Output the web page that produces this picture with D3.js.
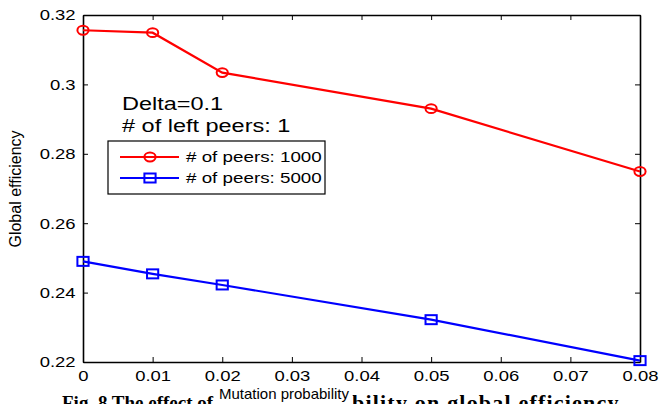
<!DOCTYPE html>
<html><head><meta charset="utf-8">
<script src="https://cdn.jsdelivr.net/npm/d3@7"></script>
<style>body{margin:0;background:#fff}svg{display:block}</style>
</head><body>
<svg id="c" width="660" height="404"></svg>
<script>
const xValues = [0, 0.01, 0.02, 0.05, 0.08];
const peers1000 = [0.3156, 0.3149, 0.3034, 0.2930, 0.2749];
const peers5000 = [0.2490, 0.2454, 0.2422, 0.2322, 0.2204];
const xTicks = [0, 0.01, 0.02, 0.03, 0.04, 0.05, 0.06, 0.07, 0.08];
const yTicks = [0.22, 0.24, 0.26, 0.28, 0.30, 0.32];
const seriesNames = ["# of peers: 1000", "# of peers: 5000"];
const annotations = ["Delta=0.1", "# of left peers: 1"];
const captionParts = ["Fig. 8 The effect of mutation proba", "bility on global efficiency"];

const svg = d3.select("#c");
const L = 83, R = 640, T = 15, B = 362;
const SX = 1.27; // horizontal stretch of the original figure
const x = d3.scaleLinear().domain([0, 0.08]).range([L, R]);
const y = d3.scaleLinear().domain([0.22, 0.32]).range([B, T]);
const font = "Liberation Sans, Arial, sans-serif";

function stretchedText(parent, tx, ty, size, str, sx) {
  return parent.append("text").attr("transform", `translate(${tx},${ty}) scale(${sx},1)`)
    .attr("font-family", font).attr("font-size", size).attr("fill", "#000").text(str);
}

// caption (mostly cut off at the bottom edge, partly hidden by the x label)
const cap = svg.append("text").attr("y", 409)
  .attr("font-family", "Liberation Serif, Times New Roman, serif")
  .attr("font-weight", "bold").attr("font-size", 19);
cap.append("tspan").attr("x", 62).text(captionParts[0]);
cap.append("tspan").attr("x", 352).attr("y", 410).attr("font-size", 22).attr("letter-spacing", 1.2).text(captionParts[1]);

// axes box
const fmt = d => d === 0 ? "0" : String(+d.toFixed(2));
const gx = svg.append("g").attr("transform", `translate(0,${B})`)
  .call(d3.axisBottom(x).tickValues(xTicks).tickSizeInner(-5).tickSizeOuter(0).tickPadding(8).tickFormat(fmt));
const gxt = svg.append("g").attr("transform", `translate(0,${T})`)
  .call(d3.axisTop(x).tickValues(xTicks).tickSizeInner(-5).tickSizeOuter(0).tickFormat(""));
const gy = svg.append("g").attr("transform", `translate(${L},0)`)
  .call(d3.axisLeft(y).tickValues(yTicks).tickSizeInner(-5).tickSizeOuter(0).tickPadding(6).tickFormat(d => String(+d.toFixed(2))));
const gyr = svg.append("g").attr("transform", `translate(${R},0)`)
  .call(d3.axisRight(y).tickValues(yTicks).tickSizeInner(-5).tickSizeOuter(0).tickFormat(""));
[gx, gxt, gy, gyr].forEach(g => {
  g.select(".domain").attr("stroke", "#000").attr("stroke-width", 1.6);
  g.selectAll(".tick line").attr("stroke", "#000").attr("stroke-width", 1);
  g.selectAll("text").attr("font-family", font).attr("font-size", 15).attr("fill", "#000")
    .attr("transform", `scale(${SX - 0.04},1)`);
});

// axis labels
const xl = svg.append("g");
const xlt = xl.append("text").attr("x", 284).attr("y", 399).attr("text-anchor", "middle")
  .attr("font-family", font).attr("font-size", 15).text("Mutation probability");
const bb = xlt.node().getBBox();
xl.insert("rect", "text").attr("x", bb.x - 3).attr("y", bb.y + 1).attr("width", bb.width + 6).attr("height", 404 - bb.y).attr("fill", "#fff");
svg.append("text").attr("transform", `translate(21,189) rotate(-90)`).attr("text-anchor", "middle")
  .attr("font-family", font).attr("font-size", 16).text("Global efficiency");

// series
const series = [
  {vals: peers1000, color: "#ff0000", marker: "circle"},
  {vals: peers5000, color: "#0000ff", marker: "square"}
];
const line = d3.line().x(d => x(d[0])).y(d => y(d[1]));
function drawMarker(g, type, cx, cy, color) {
  if (type === "circle") {
    g.append("ellipse").attr("cx", cx).attr("cy", cy).attr("rx", 5.6).attr("ry", 4.4)
      .attr("fill", "none").attr("stroke", color).attr("stroke-width", 2);
  } else {
    g.append("rect").attr("x", cx - 5.6).attr("y", cy - 4.5).attr("width", 11.2).attr("height", 9)
      .attr("fill", "none").attr("stroke", color).attr("stroke-width", 2);
  }
}
series.forEach(s => {
  const pts = xValues.map((v, i) => [v, s.vals[i]]);
  svg.append("path").attr("d", line(pts)).attr("fill", "none").attr("stroke", s.color).attr("stroke-width", 2.2);
  const g = svg.append("g");
  pts.forEach(p => drawMarker(g, s.marker, x(p[0]), y(p[1]), s.color));
});

// annotations
stretchedText(svg, 122, 110, 18.5, annotations[0], SX);
stretchedText(svg, 122, 132, 18.5, annotations[1], SX);

// legend
const lg = svg.append("g");
lg.append("rect").attr("x", 108).attr("y", 141).attr("width", 217).attr("height", 53)
  .attr("fill", "#fff").attr("stroke", "#000").attr("stroke-width", 1.2);
series.forEach((s, i) => {
  const ly = 157 + i * 21;
  lg.append("line").attr("x1", 120).attr("x2", 179).attr("y1", ly).attr("y2", ly).attr("stroke", s.color).attr("stroke-width", 2.2);
  drawMarker(lg, s.marker, 150, ly, s.color);
  stretchedText(lg, 186, ly + 5, 14.8, seriesNames[i], SX);
});
</script>
</body></html>
